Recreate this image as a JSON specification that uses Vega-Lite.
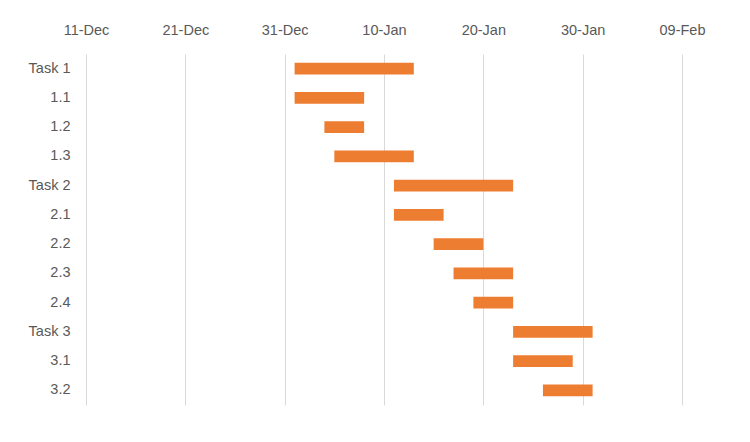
{
  "$schema": "https://vega.github.io/schema/vega-lite/v6.json",
  "width": 596,
  "height": 351,
  "autosize": "none",
  "padding": {"left": 86, "top": 54, "right": 68, "bottom": 37},
  "background": "white",
  "config": {"view": {"stroke": null}, "font": "Liberation Sans"},
  "data": {
    "values": [
      {"task": "Task 1", "start": "2017-01-01T00:00:00", "end": "2017-01-13T00:00:00"},
      {"task": "1.1", "start": "2017-01-01T00:00:00", "end": "2017-01-08T00:00:00"},
      {"task": "1.2", "start": "2017-01-04T00:00:00", "end": "2017-01-08T00:00:00"},
      {"task": "1.3", "start": "2017-01-05T00:00:00", "end": "2017-01-13T00:00:00"},
      {"task": "Task 2", "start": "2017-01-11T00:00:00", "end": "2017-01-23T00:00:00"},
      {"task": "2.1", "start": "2017-01-11T00:00:00", "end": "2017-01-16T00:00:00"},
      {"task": "2.2", "start": "2017-01-15T00:00:00", "end": "2017-01-20T00:00:00"},
      {"task": "2.3", "start": "2017-01-17T00:00:00", "end": "2017-01-23T00:00:00"},
      {"task": "2.4", "start": "2017-01-19T00:00:00", "end": "2017-01-23T00:00:00"},
      {"task": "Task 3", "start": "2017-01-23T00:00:00", "end": "2017-01-31T00:00:00"},
      {"task": "3.1", "start": "2017-01-23T00:00:00", "end": "2017-01-29T00:00:00"},
      {"task": "3.2", "start": "2017-01-26T00:00:00", "end": "2017-01-31T00:00:00"}
    ]
  },
  "mark": {"type": "bar", "color": "#ED7D31"},
  "encoding": {
    "y": {
      "field": "task",
      "type": "nominal",
      "sort": null,
      "title": null,
      "scale": {"paddingInner": 0.6, "paddingOuter": 0.3},
      "axis": {
        "ticks": false,
        "domain": false,
        "labelPadding": 16,
        "labelFontSize": 14.5,
        "labelColor": "#595959",
        "grid": false
      }
    },
    "x": {
      "field": "start",
      "type": "temporal",
      "title": null,
      "scale": {
        "domain": [
          {"year": 2016, "month": 12, "date": 11},
          {"year": 2017, "month": 2, "date": 9}
        ]
      },
      "axis": {
        "orient": "top",
        "values": [
          {"year": 2016, "month": 12, "date": 11},
          {"year": 2016, "month": 12, "date": 21},
          {"year": 2016, "month": 12, "date": 31},
          {"year": 2017, "month": 1, "date": 10},
          {"year": 2017, "month": 1, "date": 20},
          {"year": 2017, "month": 1, "date": 30},
          {"year": 2017, "month": 2, "date": 9}
        ],
        "format": "%d-%b",
        "ticks": false,
        "domain": false,
        "grid": true,
        "gridColor": "#d9d9d9",
        "gridWidth": 1,
        "labelPadding": 17,
        "labelFontSize": 14.5,
        "labelColor": "#595959",
        "labelFlush": false
      }
    },
    "x2": {"field": "end"}
  }
}
